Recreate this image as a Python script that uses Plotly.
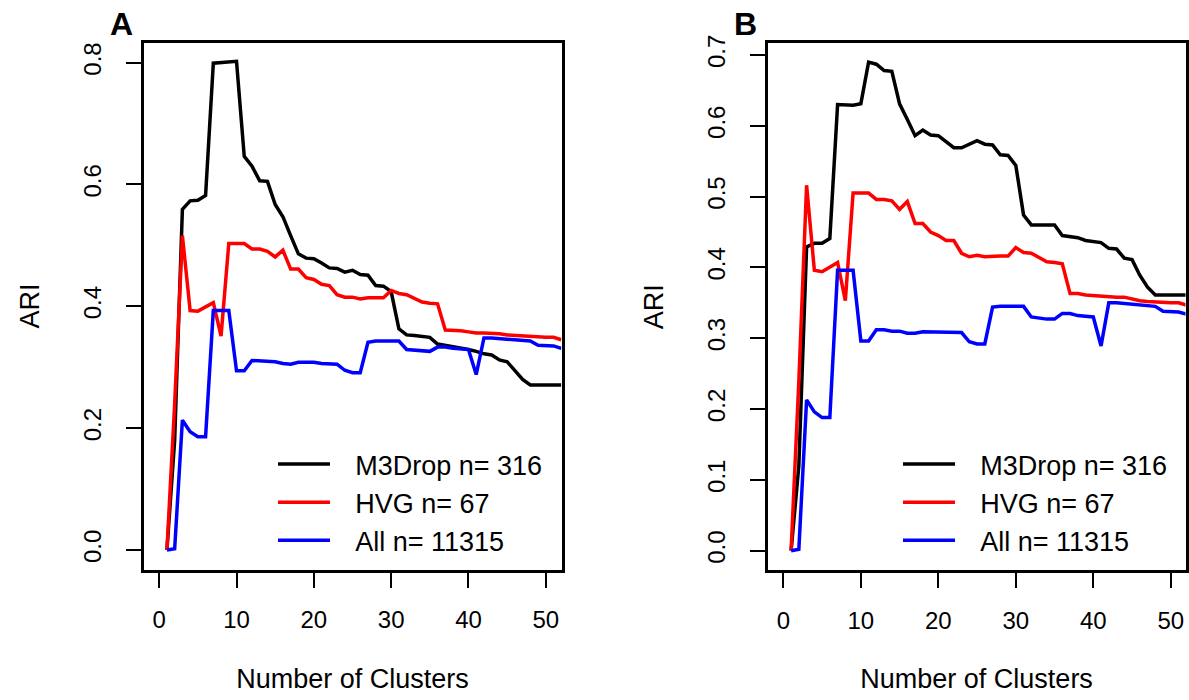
import plotly.graph_objects as go

# ---------------- data ----------------
clusters = list(range(1, 53))

A_m3drop = [0.000, 0.180, 0.559, 0.573, 0.574, 0.582, 0.799, 0.800, 0.801, 0.802,
            0.646, 0.630, 0.606, 0.605, 0.567, 0.547, 0.516, 0.486, 0.479, 0.478,
            0.471, 0.463, 0.462, 0.456, 0.459, 0.452, 0.451, 0.434, 0.433, 0.424,
            0.363, 0.353, 0.352, 0.350, 0.349, 0.338, 0.336, 0.334, 0.331, 0.329,
            0.326, 0.322, 0.320, 0.312, 0.309, 0.295, 0.280, 0.271, 0.271, 0.271,
            0.271, 0.271]
A_hvg = [0.000, 0.240, 0.516, 0.393, 0.392, 0.399, 0.406, 0.351, 0.503, 0.503,
         0.503, 0.494, 0.494, 0.490, 0.481, 0.492, 0.461, 0.461, 0.447, 0.444,
         0.436, 0.434, 0.419, 0.415, 0.415, 0.412, 0.414, 0.414, 0.414, 0.426,
         0.421, 0.419, 0.413, 0.407, 0.405, 0.404, 0.361, 0.361, 0.360, 0.358,
         0.356, 0.356, 0.356, 0.355, 0.353, 0.352, 0.351, 0.351, 0.349, 0.349,
         0.349, 0.345]
A_all = [0.000, 0.002, 0.213, 0.194, 0.186, 0.186, 0.393, 0.393, 0.393, 0.294,
         0.294, 0.311, 0.310, 0.309, 0.309, 0.306, 0.305, 0.308, 0.308, 0.308,
         0.306, 0.305, 0.305, 0.295, 0.291, 0.291, 0.341, 0.343, 0.343, 0.343,
         0.343, 0.329, 0.328, 0.326, 0.326, 0.333, 0.333, 0.331, 0.330, 0.329,
         0.288, 0.348, 0.348, 0.347, 0.345, 0.344, 0.343, 0.343, 0.336, 0.336,
         0.335, 0.331]

B_m3drop = [0.000, 0.120, 0.429, 0.434, 0.434, 0.441, 0.630, 0.629, 0.629, 0.631,
            0.690, 0.687, 0.678, 0.677, 0.631, 0.609, 0.586, 0.594, 0.587, 0.586,
            0.578, 0.569, 0.569, 0.574, 0.579, 0.574, 0.573, 0.559, 0.558, 0.544,
            0.474, 0.460, 0.460, 0.460, 0.460, 0.445, 0.443, 0.442, 0.438, 0.437,
            0.435, 0.427, 0.426, 0.413, 0.411, 0.389, 0.372, 0.361, 0.361, 0.361,
            0.361, 0.361]
B_hvg = [0.000, 0.240, 0.516, 0.396, 0.394, 0.401, 0.407, 0.353, 0.505, 0.505,
         0.505, 0.496, 0.496, 0.494, 0.482, 0.493, 0.462, 0.462, 0.450, 0.445,
         0.438, 0.438, 0.420, 0.415, 0.417, 0.415, 0.416, 0.416, 0.416, 0.428,
         0.421, 0.420, 0.414, 0.408, 0.407, 0.405, 0.363, 0.363, 0.361, 0.360,
         0.359, 0.358, 0.358, 0.358, 0.355, 0.353, 0.352, 0.351, 0.351, 0.350,
         0.350, 0.347]
B_all = [0.000, 0.002, 0.213, 0.196, 0.188, 0.188, 0.396, 0.396, 0.396, 0.296,
         0.296, 0.312, 0.312, 0.310, 0.310, 0.307, 0.307, 0.309, 0.309, 0.309,
         0.308, 0.308, 0.308, 0.295, 0.292, 0.292, 0.344, 0.345, 0.345, 0.345,
         0.345, 0.330, 0.328, 0.327, 0.327, 0.335, 0.335, 0.332, 0.331, 0.330,
         0.289, 0.350, 0.350, 0.349, 0.348, 0.347, 0.346, 0.345, 0.338, 0.338,
         0.337, 0.334]

series_names = ["M3Drop n= 316", "HVG n= 67", "All n= 11315"]
series_colors = ["#000000", "#FF0000", "#0000FF"]

x_ticks = [0, 10, 20, 30, 40, 50]
A_yticks = [0.0, 0.2, 0.4, 0.6, 0.8]
A_yticktext = ["0.0", "0.2", "0.4", "0.6", "0.8"]
B_yticks = [0.0, 0.1, 0.2, 0.3, 0.4, 0.5, 0.6, 0.7]
B_yticktext = ["0.0", "0.1", "0.2", "0.3", "0.4", "0.5", "0.6", "0.7"]

FONT = "Liberation Sans, Arial, Helvetica, sans-serif"
GAP = "\u2002\u2005"  # spacing between legend line and label (as in R legend)

fig = go.Figure()

for ys, name, col in zip([A_m3drop, A_hvg, A_all], series_names, series_colors):
    fig.add_trace(go.Scatter(x=clusters, y=ys, mode="lines", name=GAP + name,
                             line=dict(color=col, width=3.5),
                             xaxis="x", yaxis="y", legend="legend"))
for ys, name, col in zip([B_m3drop, B_hvg, B_all], series_names, series_colors):
    fig.add_trace(go.Scatter(x=clusters, y=ys, mode="lines", name=GAP + name,
                             line=dict(color=col, width=3.5),
                             xaxis="x2", yaxis="y2", legend="legend2"))

W, H = 1189, 700

def xax(domain, rng, anchor):
    return dict(domain=domain, range=rng, anchor=anchor, automargin=False,
                tickmode="array", tickvals=x_ticks,
                ticks="outside", ticklen=15, tickwidth=2, tickcolor="black",
                showline=True, mirror=True, linewidth=3, linecolor="black",
                showgrid=False, zeroline=False,
                tickfont=dict(family=FONT, size=24, color="black"),
                ticklabelstandoff=12,
                title=dict(text="Number of Clusters", standoff=37,
                           font=dict(family=FONT, size=27, color="black")))

def yax(domain, rng, anchor, vals, text):
    return dict(domain=domain, range=rng, anchor=anchor, automargin=False,
                tickmode="array", tickvals=vals, ticktext=text, tickangle=-90,
                ticks="outside", ticklen=15, tickwidth=2, tickcolor="black",
                showline=True, mirror=True, linewidth=3, linecolor="black",
                showgrid=False, zeroline=False,
                tickfont=dict(family=FONT, size=24, color="black"),
                ticklabelstandoff=15,
                title=dict(text="ARI", standoff=32,
                           font=dict(family=FONT, size=27, color="black")))

fig.update_layout(
    width=W, height=H,
    margin=dict(l=0, r=0, t=0, b=0, autoexpand=False),
    paper_bgcolor="white", plot_bgcolor="white",
    font=dict(family=FONT, color="black"),
    xaxis=xax([143.5 / W, 561.5 / W], [-2.03, 52.03], "y"),
    yaxis=yax([1 - 569.5 / H, 1 - 42.5 / H], [-0.032, 0.8329], "x", A_yticks, A_yticktext),
    xaxis2=xax([767.7 / W, 1185.5 / W], [-2.02, 51.9], "y2"),
    yaxis2=yax([1 - 570 / H, 1 - 43.3 / H], [-0.0273, 0.7165], "x2", B_yticks, B_yticktext),
    legend=dict(x=273 / W, y=1 - 440 / H, xanchor="left", yanchor="top",
                bgcolor="rgba(0,0,0,0)", borderwidth=0, itemwidth=52,
                font=dict(family=FONT, size=27, color="black"), tracegroupgap=0),
    legend2=dict(x=898 / W, y=1 - 440 / H, xanchor="left", yanchor="top",
                 bgcolor="rgba(0,0,0,0)", borderwidth=0, itemwidth=52,
                 font=dict(family=FONT, size=27, color="black"), tracegroupgap=0),
    annotations=[
        dict(text="<b>A</b>", x=121 / W, y=1 - 24 / H, xref="paper", yref="paper",
             xanchor="center", yanchor="middle", showarrow=False,
             font=dict(family=FONT, size=32, color="black")),
        dict(text="<b>B</b>", x=745 / W, y=1 - 24 / H, xref="paper", yref="paper",
             xanchor="center", yanchor="middle", showarrow=False,
             font=dict(family=FONT, size=32, color="black")),
    ],
)

fig.write_html("out.html",
               config={"displayModeBar": False},
               post_script="document.body.style.margin='0';document.body.style.overflow='hidden';")
